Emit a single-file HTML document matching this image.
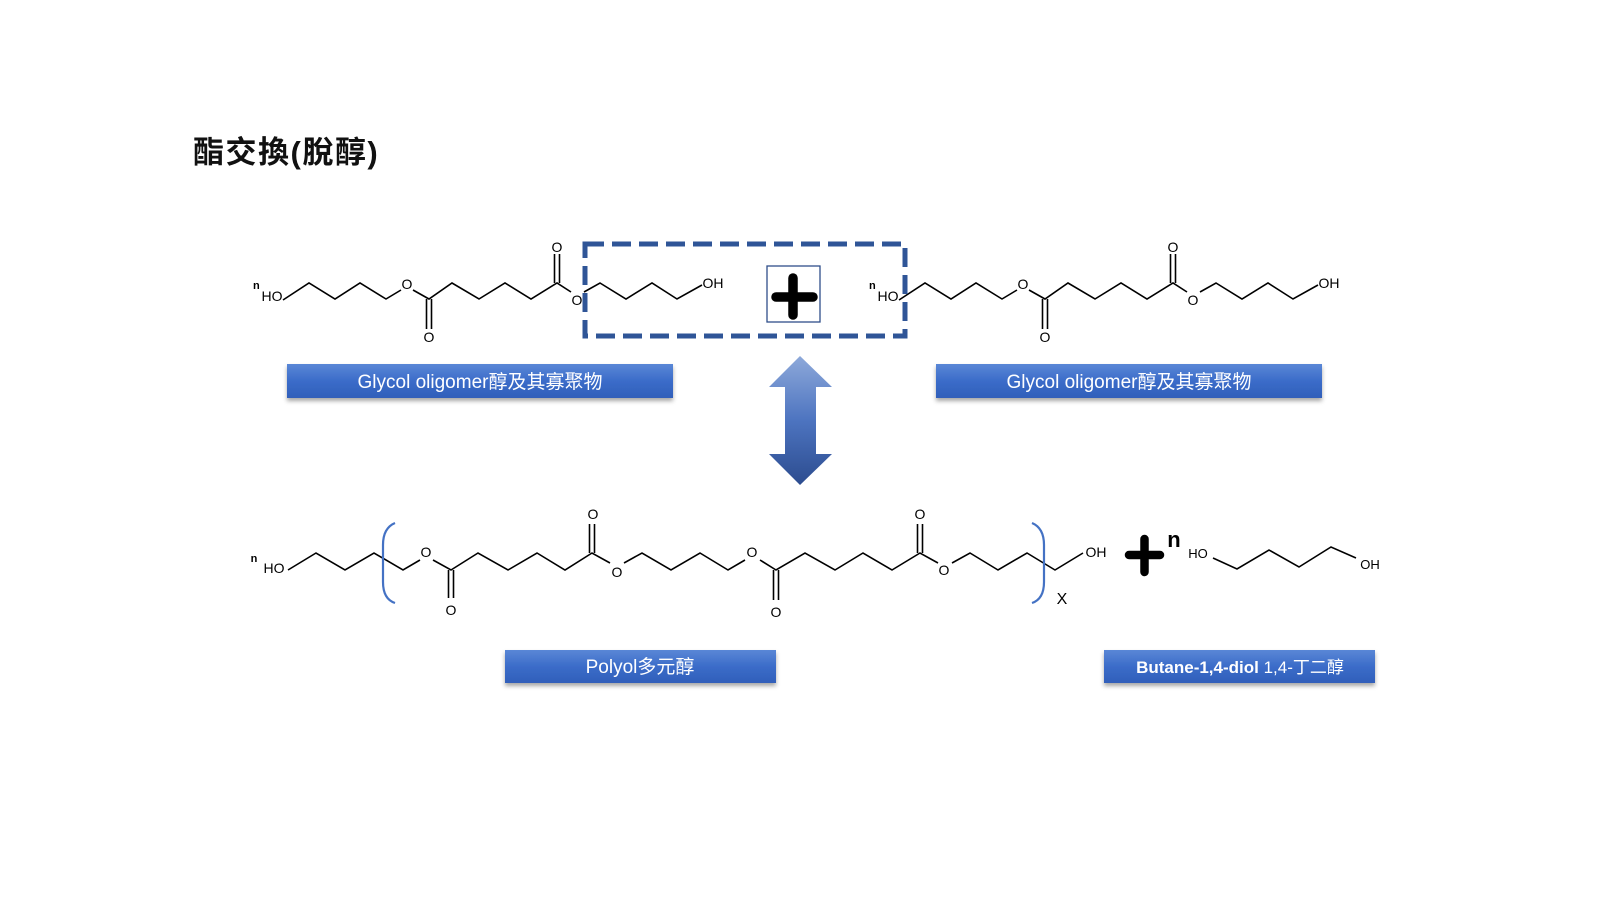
<!DOCTYPE html>
<html><head><meta charset="utf-8"><style>
html,body{margin:0;padding:0;background:#fff;}
svg{display:block;}
text{font-family:"Liberation Sans","Noto Sans CJK TC",sans-serif;}
</style></head><body>
<svg width="1600" height="911" viewBox="0 0 1600 911" xmlns="http://www.w3.org/2000/svg">
<defs>
<linearGradient id="lb" x1="0" y1="0" x2="0" y2="1"><stop offset="0" stop-color="#5a87d6"/><stop offset="0.5" stop-color="#3b6cc9"/><stop offset="1" stop-color="#305fba"/></linearGradient>
<linearGradient id="ar" x1="0" y1="0" x2="0" y2="1"><stop offset="0" stop-color="#8ea9da"/><stop offset="0.5" stop-color="#4d74c0"/><stop offset="1" stop-color="#2c4c8f"/></linearGradient>
<filter id="sh" x="-5%" y="-20%" width="110%" height="160%"><feDropShadow dx="0" dy="3" stdDeviation="2" flood-color="#000" flood-opacity="0.35"/></filter>
<g id="olig" fill="none" stroke="#000" stroke-width="1.6">
<polyline points="283,300 309,283 335,299 360,283 386,299 401,290"/>
<polyline points="413,290 429,299 452,283 479,299 505,283 531,299 557,283 571,292"/>
<polyline points="584,292 600,283 626,299 652,283 677,299 702,285"/>
<line x1="426.5" y1="299" x2="426.5" y2="329"/><line x1="431.5" y1="299" x2="431.5" y2="329"/>
<line x1="554.5" y1="283" x2="554.5" y2="254"/><line x1="559.5" y1="283" x2="559.5" y2="254"/>
</g>
<g id="oligt" font-size="14" fill="#000">
<text x="272" y="301" text-anchor="middle">HO</text>
<text x="253" y="289" font-size="11" font-weight="bold">n</text>
<text x="407" y="289" text-anchor="middle">O</text>
<text x="429" y="342" text-anchor="middle">O</text>
<text x="557" y="252" text-anchor="middle">O</text>
<text x="577" y="305" text-anchor="middle">O</text>
<text x="713" y="288" text-anchor="middle">OH</text>
</g>
</defs>

<text x="193" y="163" font-size="31" font-weight="bold" fill="#111" letter-spacing="1.5">酯交換(脫醇)</text>

<use href="#olig"/><use href="#oligt"/>
<g transform="translate(616,0)"><use href="#olig"/><use href="#oligt"/></g>

<rect x="585" y="244" width="320" height="92" fill="none" stroke="#2f5597" stroke-width="5" stroke-dasharray="19,8"/>
<rect x="767" y="266" width="53" height="56" fill="#fff" stroke="#2f4f8a" stroke-width="1.3"/>
<line x1="776" y1="297" x2="813" y2="297" stroke="#000" stroke-width="9.5" stroke-linecap="round"/>
<line x1="793" y1="278" x2="793" y2="315" stroke="#000" stroke-width="9.5" stroke-linecap="round"/>

<g filter="url(#sh)">
<rect x="287" y="364" width="386" height="34" fill="url(#lb)"/>
<rect x="936" y="364" width="386" height="34" fill="url(#lb)"/>
<rect x="505" y="650" width="271" height="33" fill="url(#lb)"/>
<rect x="1104" y="650" width="271" height="33" fill="url(#lb)"/>
</g>
<g fill="#fff" font-size="19" text-anchor="middle">
<text x="480" y="388">Glycol oligomer醇及其寡聚物</text>
<text x="1129" y="388">Glycol oligomer醇及其寡聚物</text>
<text x="640" y="673">Polyol多元醇</text>
<text x="1240" y="673" font-size="17"><tspan font-weight="bold">Butane-1,4-diol</tspan> 1,4-丁二醇</text>
</g>

<polygon points="800,356 832,387 816,387 816,454 832,454 800,485 769,454 785,454 785,387 769,387" fill="url(#ar)"/>

<g fill="none" stroke="#000" stroke-width="1.6">
<polyline points="288,570 316,553 345,570 374,553 403,570 420,560"/>
<polyline points="433,560 451,570 478,553 508,570 537,553 565,570 592,553 610,563"/>
<polyline points="624,563 642,553 671,570 700,553 728,570 745,560"/>
<polyline points="760,560 776,570 805,553 835,570 863,553 892,570 920,553 938,563"/>
<polyline points="952,563 970,553 998,570 1027,553 1055,570 1083,553"/>
<line x1="448.5" y1="570" x2="448.5" y2="598"/><line x1="453.5" y1="570" x2="453.5" y2="598"/>
<line x1="589.5" y1="553" x2="589.5" y2="524"/><line x1="594.5" y1="553" x2="594.5" y2="524"/>
<line x1="773.5" y1="570" x2="773.5" y2="600"/><line x1="778.5" y1="570" x2="778.5" y2="600"/>
<line x1="917.5" y1="553" x2="917.5" y2="524"/><line x1="922.5" y1="553" x2="922.5" y2="524"/>
<polyline points="1213,558 1237,569 1269,550 1299,567 1331,547 1356,558"/>
</g>
<g fill="none" stroke="#4472c4" stroke-width="2.2">
<path d="M395,523 Q383,528 383,545 L383,582 Q383,599 395,603"/>
<path d="M1032,523 Q1044,528 1044,545 L1044,582 Q1044,599 1032,603"/>
</g>
<g font-size="14" fill="#000" text-anchor="middle">
<text x="274" y="573">HO</text>
<text x="254" y="562" font-size="11" font-weight="bold">n</text>
<text x="426" y="557">O</text>
<text x="451" y="615">O</text>
<text x="593" y="519">O</text>
<text x="617" y="577">O</text>
<text x="752" y="557">O</text>
<text x="776" y="617">O</text>
<text x="920" y="519">O</text>
<text x="944" y="575">O</text>
<text x="1096" y="557">OH</text>
<text x="1062" y="604" font-size="16">X</text>
<text x="1198" y="558" font-size="13">HO</text>
<text x="1370" y="569" font-size="13">OH</text>
<text x="1174" y="547" font-size="22" font-weight="bold">n</text>
</g>
<line x1="1129" y1="555" x2="1160" y2="555" stroke="#000" stroke-width="8.5" stroke-linecap="round"/>
<line x1="1144.5" y1="539" x2="1144.5" y2="572" stroke="#000" stroke-width="8.5" stroke-linecap="round"/>
</svg>
</body></html>
